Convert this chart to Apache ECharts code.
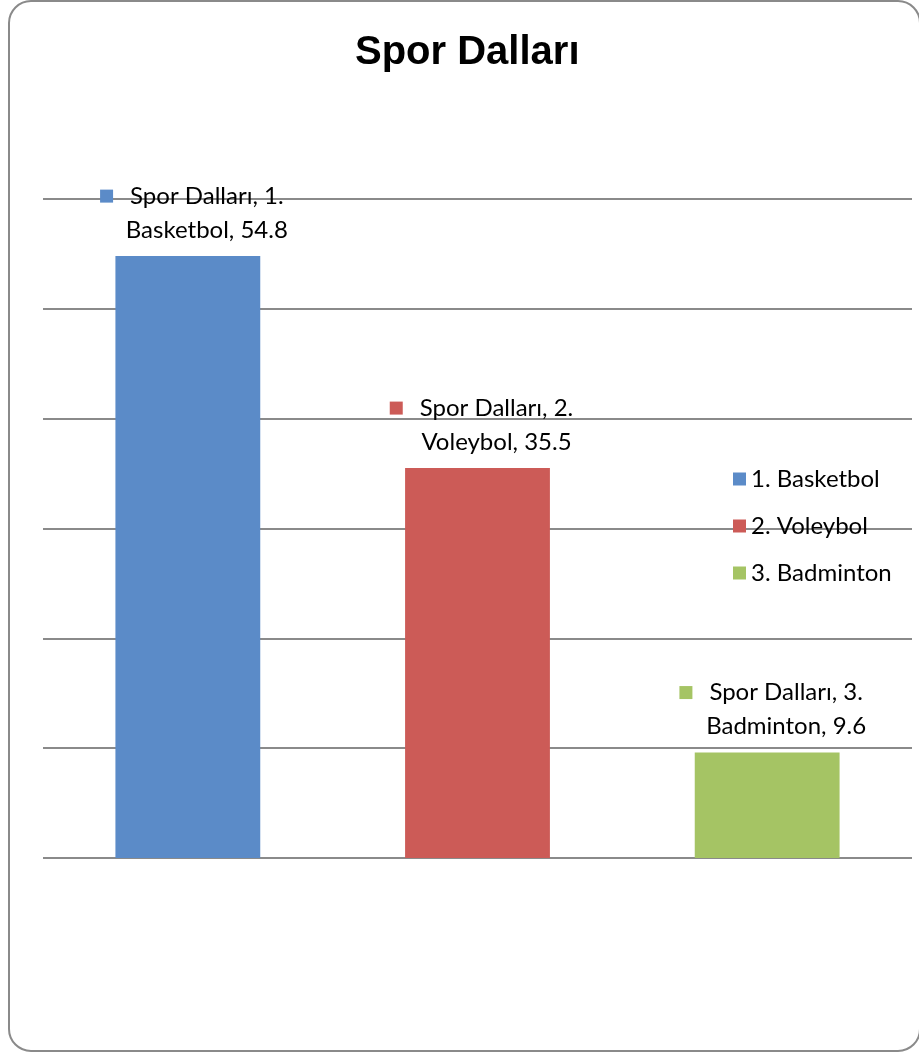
<!DOCTYPE html>
<html><head><meta charset="utf-8">
<script src="https://cdn.jsdelivr.net/npm/echarts@6/dist/echarts.min.js"></script>
<style>html,body{margin:0;padding:0;background:#fff}#c{width:919px;height:1055px}</style>
</head><body><div id="c"></div>
<script>
const title = 'Spor Dalları';
const seriesName = 'Spor Dalları';
const categories = ['1. Basketbol', '2. Voleybol', '3. Badminton'];
const values = [54.8, 35.5, 9.6];
const colors = ['#5B8BC8', '#CC5B57', '#A5C464'];
const yTicks = [0, 10, 20, 30, 40, 50, 60];

const FONT = 'Lato';
const chart = echarts.init(document.getElementById('c'));
const series = categories.map((cat, i) => ({
  name: cat,
  type: 'bar',
  barWidth: '50%',
  barGap: '-100%',
  itemStyle: { color: colors[i] },
  data: categories.map((c, j) => j === i ? values[i] : null),
  label: {
    show: true,
    position: 'top',
    distance: 9,
    align: 'center',
    offset: [4, 0],
    formatter: p => {
      const parts = cat.split(' ');
      return '{sq|}{sp|}{t|' + seriesName + ', ' + parts[0] + '}\n{ind|}{t|' + parts.slice(1).join(' ') + ', ' + values[i] + '}';
    },
    rich: {
      sq: { width: 13, height: 13, backgroundColor: colors[i] },
      sp: { width: 17 },
      ind: { width: 30 },
      t: { fontFamily: FONT, fontSize: 24, color: '#000', lineHeight: 34 }
    }
  }
}));

chart.setOption({
  animation: false,
  title: {
    text: title, left: 350, top: 28,
    textStyle: { fontFamily: 'Liberation Sans', fontWeight: 'bold', fontSize: 40, color: '#000' }
  },
  legend: {
    orient: 'vertical', left: 728, top: 462,
    icon: 'rect', itemWidth: 13, itemHeight: 13, itemGap: 23,
    data: categories,
    textStyle: { fontFamily: FONT, fontSize: 24, color: '#000', padding: [0, 0, 0, 0] }
  },
  grid: { left: 43, right: 7, top: 199, bottom: 197, containLabel: false },
  xAxis: {
    type: 'category', data: categories,
    axisLine: { show: false }, axisTick: { show: false }, axisLabel: { show: false }
  },
  yAxis: {
    type: 'value', min: yTicks[0], max: yTicks[yTicks.length - 1], interval: yTicks[1] - yTicks[0],
    axisLabel: { show: false }, axisLine: { show: false }, axisTick: { show: false },
    splitLine: { lineStyle: { color: '#8a8a8a', width: 2 } }
  },
  graphic: [{
    type: 'rect', z: -1, silent: true,
    shape: { x: 9, y: 1, width: 911, height: 1050, r: 22 },
    style: { fill: 'none', stroke: '#8a8a8a', lineWidth: 2 }
  }],
  series
});
</script></body></html>
